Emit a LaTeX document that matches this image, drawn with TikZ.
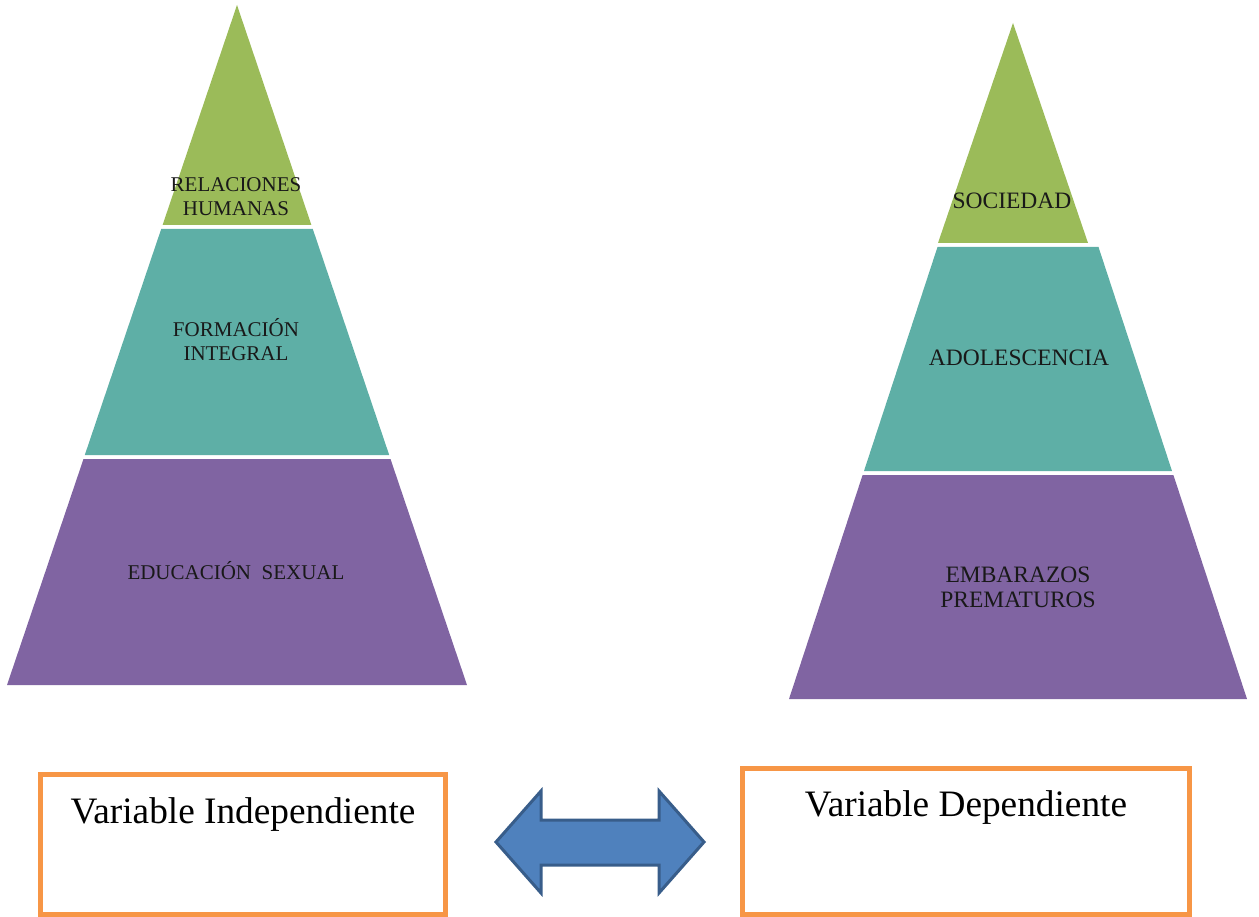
\documentclass[tikz,border=0pt]{standalone}
\usepackage{fontspec}
\setmainfont{Liberation Serif}
\definecolor{pgreen}{HTML}{9BBB59}
\definecolor{pteal}{HTML}{5EAFA6}
\definecolor{ppurple}{HTML}{8064A2}
\definecolor{borange}{HTML}{F79646}
\definecolor{afill}{HTML}{4F81BD}
\definecolor{aline}{HTML}{385D8A}
\begin{document}
\begin{tikzpicture}[x=1pt,y=-1pt,
  lbl/.style={font=\fontsize{21}{24}\selectfont, text=black!90, inner sep=0pt, anchor=base},
  lblr/.style={font=\fontsize{23.5}{25}\selectfont, text=black!90, inner sep=0pt, anchor=base},
  vbox/.style={draw=borange, line width=5pt, inner sep=0pt},
  vtext/.style={font=\fontsize{37.3}{44}\selectfont, text=black, inner sep=0pt, anchor=base},
  dblarrow/.style={fill=afill, draw=aline, line width=3pt, line join=miter}]
\useasboundingbox (0,0) rectangle (1259,917);

% left pyramid
\fill[pgreen] (237,5) -- (311.4,225) -- (162.6,225) -- cycle;
\fill[pteal] (161.2,229) -- (312.8,229) -- (389.2,455) -- (84.8,455) -- cycle;
\fill[ppurple] (83.5,459) -- (390.5,459) -- (467,685) -- (7,685) -- cycle;

% right pyramid
\fill[pgreen] (1013,23) -- (1088,243) -- (938,243) -- cycle;
\fill[pteal] (937.5,247) -- (1098.5,247) -- (1172,471) -- (864,471) -- cycle;
\fill[ppurple] (862.6,475) -- (1173.4,475) -- (1247,699) -- (789,699) -- cycle;

% pyramid labels
\node[lbl] (rh) at (236,192) {\begin{tabular}[t]{@{}c@{}}RELACIONES\\HUMANAS\end{tabular}};
\node[lbl] (fi) at (236,337) {\begin{tabular}[t]{@{}c@{}}FORMACIÓN\\INTEGRAL\end{tabular}};
\node[lbl] (es) at (236,579) {EDUCACIÓN\ \ SEXUAL};
\node[lblr] (so) at (1012,209) {SOCIEDAD};
\node[lblr] (ad) at (1019,366) {ADOLESCENCIA};
\node[lblr] (ep) at (1018,582) {\begin{tabular}[t]{@{}c@{}}EMBARAZOS\\PREMATUROS\end{tabular}};

% boxes
\node[vbox, minimum width=405pt, minimum height=140pt] (boxI) at (243,844.5) {};
\node[vbox, minimum width=446.5pt, minimum height=145.5pt] (boxD) at (965.75,841.25) {};
\node[vtext] (tI) at (243,823) {Variable Independiente};
\node[vtext] (tD) at (966,816) {Variable Dependiente};

% double arrow
\draw[dblarrow] (496,842) -- (541,791) -- (541,820) -- (659,820) -- (659,791)
  -- (704,842) -- (659,893) -- (659,865) -- (541,865) -- (541,893) -- cycle;
\end{tikzpicture}
\end{document}
